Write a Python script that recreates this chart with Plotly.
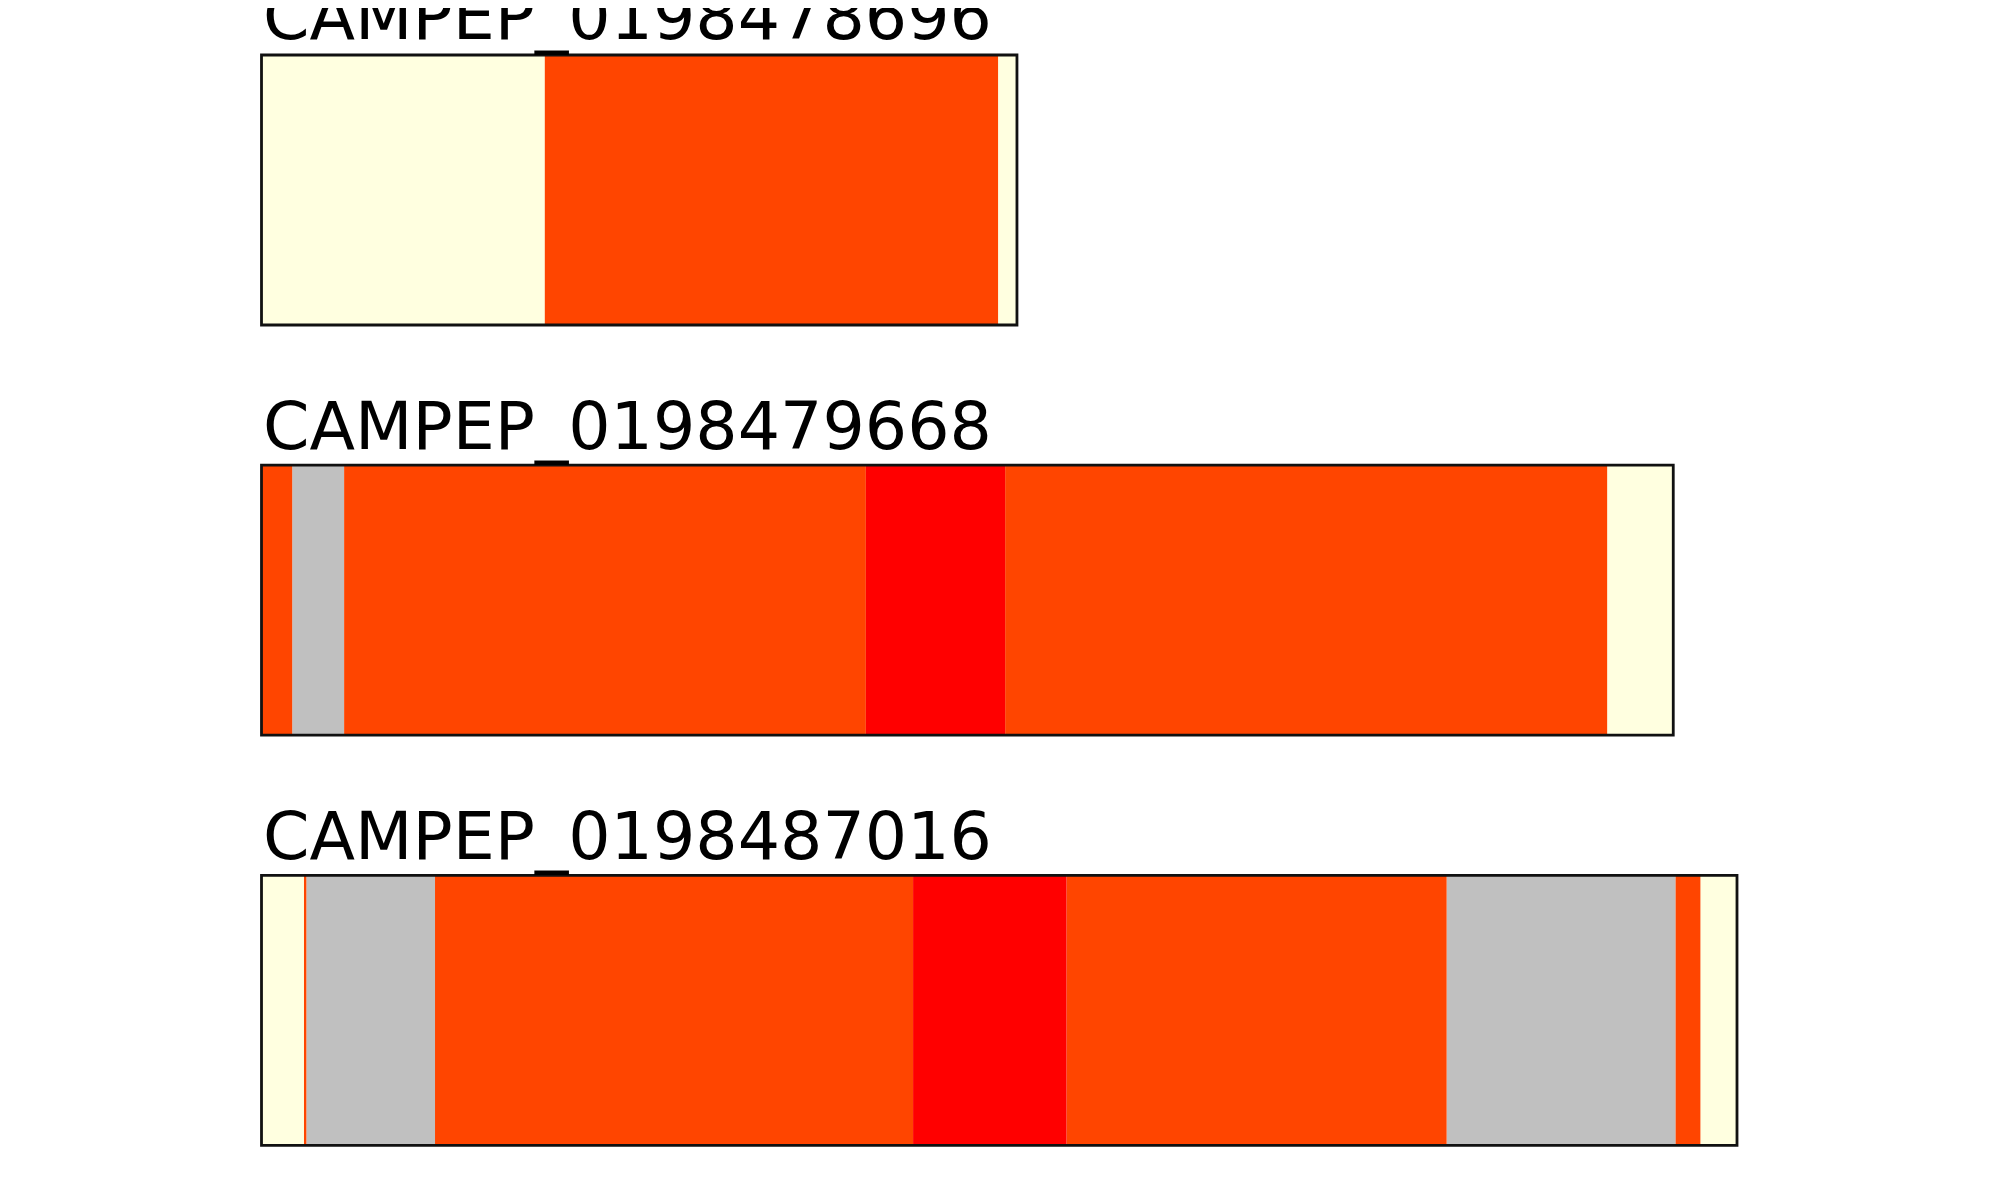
import plotly.graph_objects as go

# ---- data ----
names = ["CAMPEP_0198478696", "CAMPEP_0198479668", "CAMPEP_0198487016"]
lengths = [320, 598, 625]

bounds_a = [0, 120, 312, 320]
types_a = ["none", "domain", "none"]

bounds_b = [0, 13, 35, 256, 315, 570, 598]
types_b = ["domain", "gap", "domain", "motif", "domain", "none"]

bounds_c = [0, 18, 19, 73.5, 276, 341, 502, 599, 609.5, 625]
types_c = ["none", "domain", "gap", "domain", "motif", "domain", "gap", "domain", "none"]

all_bounds = [bounds_a, bounds_b, bounds_c]
all_types = [types_a, types_b, types_c]

type_order = ["none", "gap", "domain", "motif"]
colors = {"none": "#FFFFE0", "gap": "#C0C0C0", "domain": "#FF4500", "motif": "#FF0000"}

# ---- layout geometry ----
W, H = 2000, 1200
page_off = 8.0                         # browser body margin
x0_px, scale = 261.5 - page_off, 2.3608
row0_px, row_gap_px, box_h_px = 190.0 - page_off, 410.2, 270.0

xr = [-x0_px / scale, (W - x0_px) / scale]
y_top = -row0_px / row_gap_px
y_bot = (H - row0_px) / row_gap_px
bar_w = box_h_px / row_gap_px

fig = go.Figure()

for t in type_order:
    ys, bases, lens = [], [], []
    for r, (b, ty) in enumerate(zip(all_bounds, all_types)):
        for i, tt in enumerate(ty):
            if tt == t:
                ys.append(r)
                bases.append(b[i])
                lens.append(b[i + 1] - b[i])
    fig.add_trace(go.Bar(
        orientation="h", y=ys, x=lens, base=bases, width=bar_w,
        marker=dict(color=colors[t], line=dict(width=0)),
        showlegend=False, hoverinfo="skip",
    ))

# outlines
fig.add_trace(go.Bar(
    orientation="h", y=list(range(len(lengths))), x=lengths, base=[0] * len(lengths),
    width=bar_w,
    marker=dict(color="rgba(0,0,0,0)", line=dict(color="#111111", width=2.8)),
    showlegend=False, hoverinfo="skip",
))

for r, nm in enumerate(names):
    fig.add_annotation(
        x=0, y=r - bar_w / 2, xref="x", yref="y",
        text=nm, showarrow=False, xanchor="left", yanchor="bottom",
        font=dict(family="DejaVu Sans", size=66.6, color="black"),
        xshift=-1, yshift=-2,
    )

fig.update_layout(
    width=W, height=H, barmode="overlay",
    margin=dict(l=0, r=0, t=0, b=0),
    paper_bgcolor="white", plot_bgcolor="white",
    xaxis=dict(range=xr, visible=False, fixedrange=True),
    yaxis=dict(range=[y_bot, y_top], visible=False, fixedrange=True),
)

fig.write_html("out.html")
